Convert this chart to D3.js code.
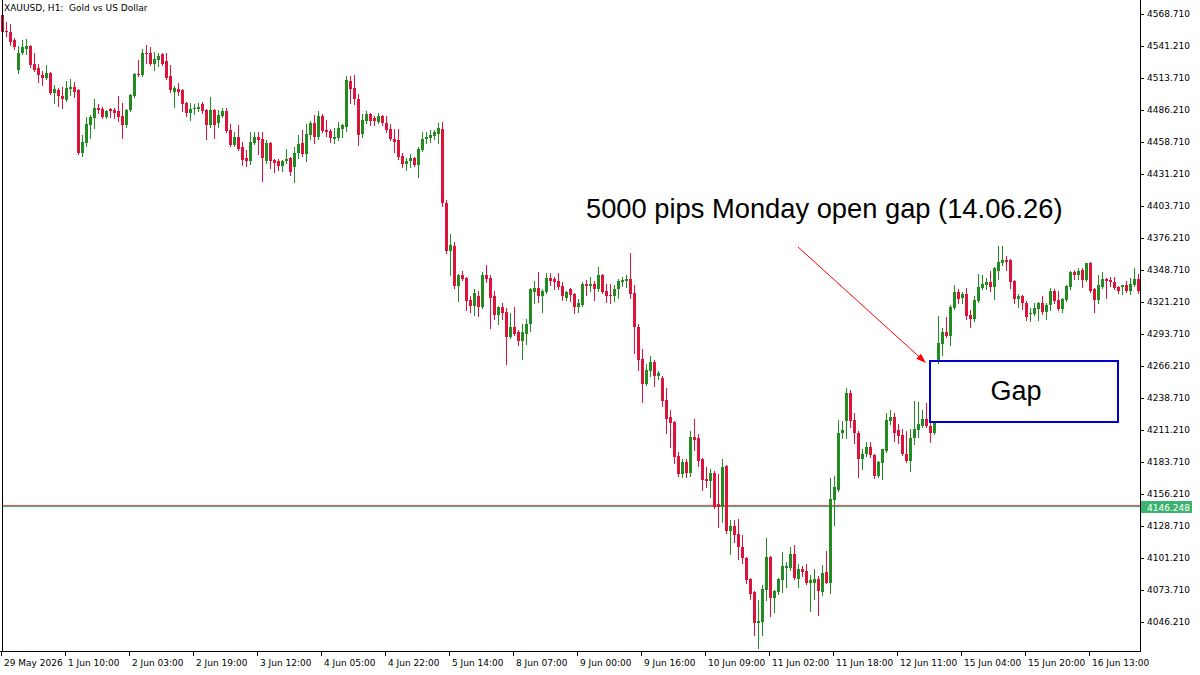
<!DOCTYPE html>
<html lang="en">
<head>
<meta charset="UTF-8">
<title>XAUUSD, H1</title>
<script src="https://d3js.org/d3.v7.min.js"></script>
<style>
  body { margin: 0; background: #fff; }
  svg { display: block; }
  text { font-family: "DejaVu Sans", Tahoma, sans-serif; }
  .axis text { font-size: 9px; fill: #000; }
  .axis path, .axis line { stroke: #000; }
  .note { font-family: "Liberation Sans", Arial, sans-serif; fill: #000; }
</style>
</head>
<body>
<svg width="1200" height="675"></svg>
<script>
// XAUUSD H1 bars, oldest first
const opens = [
  4568,4554,4553,4546,4521,4535,4539,4541,4526,4522, 4516,4514,4518,4501,4503,4498,4495,4504,4506,4503,
  4449,4458,4473,4479,4488,4487,4480,4487,4486,4485, 4481,4473,4486,4498,4517,4516,4535,4535,4526,4529,
  4534,4528,4515,4502,4504,4503,4492,4484,4487,4487, 4491,4486,4473,4486,4475,4481,4485,4469,4456,4463,
  4454,4445,4442,4458,4463,4461,4442,4458,4443,4442, 4438,4442,4445,4437,4449,4458,4448,4465,4475,4463,
  4481,4469,4468,4461,4462,4470,4472,4511,4505,4496, 4466,4477,4483,4479,4476,4481,4475,4470,4461,4460,
  4447,4440,4442,4445,4439,4452,4461,4462,4464,4466, 4470,4406,4365,4369,4335,4344,4342,4323,4318,4326,
  4317,4344,4342,4326,4310,4317,4313,4291,4300,4295, 4288,4294,4302,4330,4333,4326,4330,4342,4341,4339,
  4335,4325,4332,4328,4317,4319,4337,4335,4337,4332, 4344,4331,4327,4326,4332,4338,4339,4341,4329,4300,
  4272,4251,4262,4270,4258,4256,4237,4222,4218,4189, 4173,4184,4174,4205,4204,4186,4169,4167,4174,4148,
  4145,4180,4124,4129,4122,4111,4101,4083,4072,4045, 4046,4074,4102,4067,4072,4082,4093,4093,4105,4083,
  4092,4090,4080,4080,4083,4072,4089,4080,4151,4160, 4209,4219,4243,4220,4209,4186,4191,4197,4190,4172,
  4183,4193,4219,4222,4211,4207,4191,4185,4204,4211, 4215,4221,4215,4209,4270,4285,4295,4292,4316,4330,
  4325,4328,4310,4307,4322,4333,4336,4338,4334,4348, 4355,4357,4357,4339,4324,4326,4320,4311,4311,4315,
  4320,4313,4319,4331,4323,4315,4323,4334,4347,4344, 4349,4340,4355,4332,4323,4334,4341,4340,4338,4334,
  4334,4336,4331,4336,4341
];
const highs = [
  4572,4562,4560,4548,4541,4546,4547,4542,4535,4526, 4520,4525,4519,4508,4505,4506,4511,4513,4510,4504,
  4465,4480,4482,4496,4491,4489,4486,4488,4488,4498, 4492,4487,4500,4518,4529,4539,4542,4540,4536,4535,
  4535,4535,4525,4507,4509,4504,4493,4492,4491,4492, 4493,4487,4497,4487,4486,4488,4488,4474,4467,4473,
  4459,4452,4467,4467,4467,4467,4460,4459,4444,4444, 4443,4453,4446,4454,4465,4469,4474,4477,4482,4485,
  4483,4478,4470,4471,4476,4474,4515,4515,4516,4500, 4483,4485,4484,4481,4484,4482,4481,4474,4470,4470,
  4449,4445,4448,4446,4454,4467,4467,4469,4469,4475, 4476,4409,4380,4373,4345,4348,4343,4326,4332,4331,
  4347,4353,4344,4331,4318,4320,4316,4312,4317,4297, 4302,4307,4333,4339,4347,4332,4346,4346,4343,4346,
  4338,4331,4333,4329,4324,4338,4340,4343,4339,4351, 4345,4337,4337,4336,4341,4343,4344,4363,4336,4302,
  4281,4268,4275,4271,4262,4258,4247,4228,4219,4192, 4186,4186,4210,4221,4208,4187,4179,4178,4176,4173,
  4186,4181,4134,4134,4135,4121,4102,4084,4073,4065, 4078,4118,4103,4074,4084,4106,4098,4111,4112,4096,
  4094,4096,4087,4092,4086,4095,4107,4170,4172,4220, 4219,4247,4246,4226,4210,4195,4201,4201,4191,4185,
  4195,4226,4228,4226,4216,4212,4210,4212,4236,4235, 4228,4234,4219,4219,4309,4299,4308,4319,4336,4332,
  4330,4333,4314,4326,4345,4344,4342,4348,4351,4369, 4369,4361,4358,4340,4328,4327,4322,4316,4320,4321,
  4326,4320,4333,4332,4331,4325,4336,4348,4349,4350, 4350,4355,4356,4333,4344,4347,4342,4343,4343,4335,
  4336,4339,4342,4350,4345
];
const lows = [
  4552,4550,4542,4539,4518,4534,4534,4523,4520,4510, 4508,4513,4500,4492,4490,4488,4494,4499,4497,4448,
  4447,4455,4462,4471,4484,4479,4479,4480,4479,4477, 4462,4472,4485,4497,4515,4515,4527,4525,4521,4524,
  4525,4513,4502,4489,4499,4485,4481,4478,4483,4485, 4484,4461,4472,4462,4472,4480,4467,4455,4455,4452,
  4439,4438,4440,4457,4448,4425,4441,4436,4433,4435, 4434,4441,4430,4424,4445,4447,4442,4461,4458,4461,
  4467,4464,4459,4458,4460,4463,4468,4492,4491,4456, 4463,4475,4473,4473,4475,4473,4467,4460,4450,4444,
  4437,4435,4437,4438,4429,4451,4458,4459,4461,4458, 4404,4363,4344,4333,4322,4340,4314,4313,4310,4309,
  4316,4338,4299,4307,4302,4307,4268,4290,4293,4284, 4272,4285,4296,4320,4321,4313,4329,4336,4332,4332,
  4323,4323,4322,4312,4313,4318,4327,4331,4323,4331, 4329,4321,4320,4322,4325,4335,4334,4325,4277,4263,
  4235,4250,4258,4249,4255,4232,4209,4197,4183,4172, 4171,4171,4172,4194,4180,4160,4162,4154,4144,4128,
  4132,4123,4105,4115,4100,4097,4080,4066,4035,4024, 4035,4065,4051,4055,4070,4072,4076,4091,4083,4076,
  4086,4079,4056,4066,4052,4069,4080,4071,4130,4159, 4204,4204,4214,4200,4171,4178,4189,4188,4170,4171,
  4169,4192,4216,4202,4200,4190,4184,4176,4199,4205, 4214,4214,4201,4208,4269,4276,4291,4284,4315,4320,
  4320,4307,4300,4305,4321,4332,4332,4331,4324,4341, 4353,4349,4333,4320,4317,4315,4306,4305,4310,4306,
  4311,4307,4314,4320,4314,4313,4322,4332,4341,4341, 4334,4339,4330,4313,4320,4333,4325,4335,4332,4329,
  4328,4330,4328,4335,4329
];
const closes = [
  4553,4553,4545,4540,4535,4540,4541,4525,4521,4516, 4514,4518,4501,4504,4498,4496,4505,4506,4502,4449,
  4459,4474,4480,4488,4486,4480,4485,4485,4484,4480, 4473,4486,4499,4517,4516,4535,4534,4526,4530,4533,
  4526,4514,4503,4505,4502,4491,4484,4487,4488,4489, 4485,4473,4486,4473,4482,4485,4468,4456,4463,4453,
  4443,4442,4459,4463,4460,4445,4458,4442,4441,4438, 4442,4444,4433,4449,4457,4448,4466,4475,4463,4481,
  4468,4467,4462,4463,4471,4473,4512,4504,4496,4465, 4478,4483,4477,4477,4481,4475,4469,4461,4459,4446,
  4440,4442,4445,4439,4453,4461,4463,4465,4467,4471, 4406,4365,4370,4335,4344,4341,4322,4318,4329,4317,
  4344,4341,4325,4310,4317,4312,4291,4300,4294,4288, 4295,4302,4332,4333,4326,4331,4342,4339,4338,4334,
  4326,4330,4327,4317,4320,4337,4335,4337,4332,4344, 4330,4326,4326,4332,4339,4340,4341,4328,4300,4271,
  4251,4263,4270,4258,4260,4236,4221,4217,4188,4173, 4184,4174,4205,4203,4185,4168,4167,4174,4145,4145,
  4179,4124,4129,4121,4111,4101,4082,4070,4045,4047, 4075,4102,4067,4073,4083,4094,4094,4105,4084,4092,
  4089,4080,4082,4083,4073,4088,4080,4152,4162,4209, 4211,4243,4219,4209,4186,4191,4197,4190,4172,4184,
  4195,4220,4222,4209,4206,4191,4185,4204,4212,4216, 4221,4215,4209,4218,4286,4295,4292,4317,4330,4324,
  4328,4309,4307,4323,4334,4337,4338,4334,4350,4356, 4357,4356,4338,4324,4326,4320,4308,4312,4316,4320,
  4313,4319,4331,4322,4315,4324,4335,4347,4344,4348, 4340,4355,4331,4323,4336,4341,4339,4338,4333,4331,
  4336,4331,4337,4341,4331
];

// time axis: bar index of each label, and its text
const xTickBars = [0,16,32,48,64,80,96,112,128,144,160,176,192,208,224,240,256,272];
const xTickLabels = ["29 May 2026","1 Jun 10:00","2 Jun 03:00","2 Jun 19:00","3 Jun 12:00","4 Jun 05:00",
  "4 Jun 22:00","5 Jun 14:00","8 Jun 07:00","9 Jun 00:00","9 Jun 16:00","10 Jun 09:00","11 Jun 02:00",
  "11 Jun 18:00","12 Jun 11:00","15 Jun 04:00","15 Jun 20:00","16 Jun 13:00"];
// price axis
const yTicks = [4568.71,4541.21,4513.71,4486.21,4458.71,4431.21,4403.71,4376.21,4348.71,4321.21,
  4293.71,4266.21,4238.71,4211.21,4183.71,4156.21,4128.71,4101.21,4073.71,4046.21];

const linePrice = 4146.248;
const askPrice = 4146.9;
// objects drawn on the chart (bar index / price)
const gapBox = { fromBar: 232, toBar: 279, top: 4270.5, bottom: 4218.5 };
const gapText = { bar: 253.5, price: 4237, text: "Gap" };
const arrow = { fromBar: 199, fromPrice: 4368.5, toBar: 231, toPrice: 4268.8 };
const note = { bar: 146, price: 4393.4, text: "5000 pips Monday open gap (14.06.26)" };

const upColor = "#228b22", downColor = "#dc143c", lineColor = "#3cb371";
const chartW = 1140, chartH = 651;

const svg = d3.select("svg");
const bars = opens.map((o, i) => ({ i: i, o: o, h: highs[i], l: lows[i], c: closes[i] }));

const x = d3.scaleBand().domain(d3.range(bars.length)).range([0, bars.length * 4]);
const y = d3.scaleLinear().domain([4021.29, 4580.74]).range([chartH, 0]);
// left edge of the pixel column a bar is centred on (fractional bars allowed)
const barX = i => x.step() * i + 2;
const py = p => Math.round(y(p));

svg.append("defs").append("clipPath").attr("id", "plot")
  .append("rect").attr("x", 0).attr("y", 0).attr("width", chartW).attr("height", chartH);

const plot = svg.append("g").attr("clip-path", "url(#plot)").attr("shape-rendering", "crispEdges");

// horizontal price lines
plot.append("line").attr("x1", 2).attr("x2", chartW)
  .attr("y1", py(askPrice) + 0.5).attr("y2", py(askPrice) + 0.5)
  .attr("stroke", "#ff5050").attr("stroke-width", 1);
plot.append("line").attr("x1", 2).attr("x2", chartW)
  .attr("y1", py(linePrice) + 0.5).attr("y2", py(linePrice) + 0.5)
  .attr("stroke", lineColor).attr("stroke-width", 1);

const colorOf = d => d.c > d.o ? upColor : downColor;

plot.selectAll("line.wick").data(bars).join("line")
  .attr("class", "wick")
  .attr("x1", d => barX(d.i) + 0.5).attr("x2", d => barX(d.i) + 0.5)
  .attr("y1", d => py(d.h)).attr("y2", d => py(d.l) + 1)
  .attr("stroke", colorOf).attr("stroke-width", 1);

plot.selectAll("rect.body").data(bars).join("rect")
  .attr("class", "body")
  .attr("x", d => barX(d.i) - 1).attr("width", 3)
  .attr("y", d => py(Math.max(d.o, d.c)))
  .attr("height", d => Math.max(1, py(Math.min(d.o, d.c)) - py(Math.max(d.o, d.c))))
  .attr("fill", colorOf);

// gap rectangle
plot.append("rect")
  .attr("x", barX(gapBox.fromBar)).attr("y", py(gapBox.top))
  .attr("width", barX(gapBox.toBar) - barX(gapBox.fromBar))
  .attr("height", py(gapBox.bottom) - py(gapBox.top))
  .attr("fill", "none").attr("stroke", "#0000cd").attr("stroke-width", 2);

svg.append("text").attr("class", "note")
  .attr("x", barX(gapText.bar)).attr("y", y(gapText.price))
  .attr("text-anchor", "middle").style("font-size", "27px")
  .text(gapText.text);

// arrowed trend line
const ax1 = barX(arrow.fromBar), ay1 = y(arrow.fromPrice);
const ax2 = barX(arrow.toBar), ay2 = y(arrow.toPrice);
const ang = Math.atan2(ay2 - ay1, ax2 - ax1);
const headLen = 10, headW = 3.5;
svg.append("line")
  .attr("x1", ax1).attr("y1", ay1)
  .attr("x2", ax2 - Math.cos(ang) * headLen * 0.6).attr("y2", ay2 - Math.sin(ang) * headLen * 0.6)
  .attr("stroke", "#ff0000").attr("stroke-width", 1);
const bx = ax2 - Math.cos(ang) * headLen, by = ay2 - Math.sin(ang) * headLen;
svg.append("path")
  .attr("d", d3.line()([
    [ax2, ay2],
    [bx - Math.sin(ang) * headW, by + Math.cos(ang) * headW],
    [bx + Math.sin(ang) * headW, by - Math.cos(ang) * headW]
  ]) + "Z")
  .attr("fill", "#ff0000");

svg.append("text").attr("class", "note")
  .attr("x", barX(note.bar)).attr("y", y(note.price))
  .style("font-size", "27.3px")
  .text(note.text);

// frame + axes
svg.append("line").attr("x1", 2.5).attr("x2", 2.5).attr("y1", 0).attr("y2", chartH)
  .attr("stroke", "#000").attr("shape-rendering", "crispEdges");

const yAxis = d3.axisRight(y).tickValues(yTicks).tickSize(4).tickSizeOuter(0)
  .tickFormat(d3.format(".3f"));
const gy = svg.append("g").attr("class", "axis")
  .attr("transform", `translate(${chartW},0)`)
  .attr("shape-rendering", "crispEdges")
  .call(yAxis);
gy.select(".domain").attr("d", `M0.5,0V${chartH + 0.5}`);
gy.selectAll("text").attr("x", 7);

const xAxis = d3.axisBottom(x).tickValues(xTickBars).tickSize(5).tickSizeOuter(0)
  .tickFormat((d, j) => xTickLabels[j]);
const gx = svg.append("g").attr("class", "axis")
  .attr("transform", `translate(0,${chartH})`)
  .attr("shape-rendering", "crispEdges")
  .call(xAxis);
gx.select(".domain").attr("d", `M0,0.5H${chartW + 1}`);
gx.selectAll(".tick line").attr("transform", "translate(-0.5,0)");
gx.selectAll("text").attr("text-anchor", "start").attr("x", 2).attr("y", 9);

// last price tag on the price scale
const tagY = py(linePrice);
svg.append("rect").attr("x", chartW + 1).attr("y", tagY - 5).attr("width", 51).attr("height", 12)
  .attr("fill", lineColor);
svg.append("text").attr("x", chartW + 7).attr("y", tagY + 4.5)
  .style("font-size", "9px").attr("fill", "#fff")
  .text(linePrice.toFixed(3));

// title
svg.append("text").attr("x", 4).attr("y", 11)
  .style("font-size", "9px").style("white-space", "pre")
  .text("XAUUSD, H1:  Gold vs US Dollar");
</script>
</body>
</html>
